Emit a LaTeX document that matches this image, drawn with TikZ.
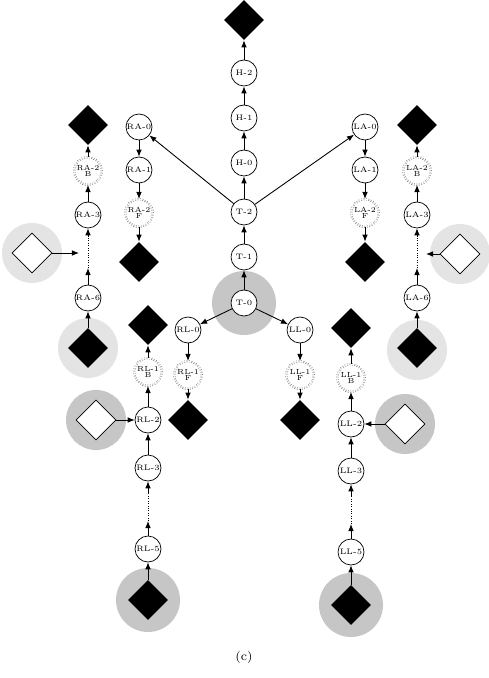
\documentclass[tikz,border=0pt]{standalone}
\usepackage{tikz}
\usetikzlibrary{arrows.meta,shapes.geometric}
\definecolor{HaloLight}{RGB}{228,228,228}
\definecolor{HaloDark}{RGB}{198,198,198}

\begin{document}
\begin{tikzpicture}[x=0.02cm,y=-0.02cm,
  joint/.style={circle,draw,line width=0.4pt,fill=white,minimum size=0.52cm,
                inner sep=0pt,font=\fontsize{4.5}{5}\selectfont},
  split/.style={joint,draw=black!65,densely dotted,double,double distance=0.6pt,
                line width=0.3pt,align=center,minimum size=0.55cm,
                font=\fontsize{4.2}{3.6}\selectfont},
  endeff/.style={diamond,fill=black,minimum size=0.8cm,inner sep=0pt},
  contact/.style={diamond,draw,line width=0.4pt,fill=white,minimum size=0.8cm,inner sep=0pt},
  link/.style={-{Latex[length=4pt,width=3.2pt]},line width=0.5pt}]
\useasboundingbox (0,0) rectangle (489,678);
% halos
\fill[HaloDark] (244,303) circle (32);
\fill[HaloLight] (88,348) circle (30);
\fill[HaloLight] (417,350) circle (30);
\fill[HaloLight] (32,253) circle (30);
\fill[HaloLight] (460,254) circle (30);
\fill[HaloDark] (96,420) circle (30);
\fill[HaloDark] (405,424) circle (30);
\fill[HaloDark] (148,600) circle (32);
\fill[HaloDark] (351,605) circle (32);
% trunk and head
\node[endeff] (head) at (244,20) {};
\node[joint] (H2) at (244,73) {H-2};
\node[joint] (H1) at (244,118) {H-1};
\node[joint] (H0) at (244,163) {H-0};
\node[joint] (T2) at (244,212) {T-2};
\node[joint] (T1) at (244,257) {T-1};
\node[joint] (T0) at (244,303) {T-0};
\draw[link] (T0) -- (T1);
\draw[link] (T1) -- (T2);
\draw[link] (T2) -- (H0);
\draw[link] (H0) -- (H1);
\draw[link] (H1) -- (H2);
\draw[link] (H2) -- (head);
% arms, forward
\node[joint] (RA0) at (139,127) {RA-0};
\node[joint] (RA1) at (139,170) {RA-1};
\node[split] (RA2f) at (139,213) {RA-2\\F};
\node[endeff] (RAf) at (139,262) {};
\node[joint] (LA0) at (365,127) {LA-0};
\node[joint] (LA1) at (365,170) {LA-1};
\node[split] (LA2f) at (365,213) {LA-2\\F};
\node[endeff] (LAf) at (365,262) {};
\draw[link] (T2) -- (RA0);
\draw[link] (T2) -- (LA0);
\draw[link] (RA0) -- (RA1);
\draw[link] (RA1) -- (RA2f);
\draw[link] (RA2f) -- (RAf);
\draw[link] (LA0) -- (LA1);
\draw[link] (LA1) -- (LA2f);
\draw[link] (LA2f) -- (LAf);
% arms, backward
\node[endeff] (RAb) at (88,125) {};
\node[split] (RA2b) at (88,171) {RA-2\\B};
\node[joint] (RA3) at (88,215) {RA-3};
\coordinate (ra-hi) at (88,236);
\coordinate (ra-lo) at (88,268);
\node[joint] (RA6) at (88,298) {RA-6};
\node[endeff] (RAroot) at (88,348) {};
\node[contact] (RAc) at (32,253) {};
\coordinate (ra-in) at (79,253);
\node[endeff] (LAb) at (417,125) {};
\node[split] (LA2b) at (417,171) {LA-2\\B};
\node[joint] (LA3) at (417,215) {LA-3};
\coordinate (la-hi) at (417,236);
\coordinate (la-lo) at (417,268);
\node[joint] (LA6) at (417,298) {LA-6};
\node[endeff] (LAroot) at (417,348) {};
\node[contact] (LAc) at (460,254) {};
\coordinate (la-in) at (426,254);
\draw[link] (RAroot) -- (RA6);
\draw[link] (RA6) -- (ra-lo);
\draw[densely dotted] (ra-lo) -- (ra-hi);
\draw[link] (ra-hi) -- (RA3);
\draw[link] (RA3) -- (RA2b);
\draw[link] (RA2b) -- (RAb);
\draw[link] (RAc) -- (ra-in);
\draw[link] (LAroot) -- (LA6);
\draw[link] (LA6) -- (la-lo);
\draw[densely dotted] (la-lo) -- (la-hi);
\draw[link] (la-hi) -- (LA3);
\draw[link] (LA3) -- (LA2b);
\draw[link] (LA2b) -- (LAb);
\draw[link] (LAc) -- (la-in);
% legs, forward
\node[joint] (RL0) at (188,330) {RL-0};
\node[split] (RL1f) at (188,375) {RL-1\\F};
\node[endeff] (RLf) at (188,420) {};
\node[joint] (LL0) at (300,330) {LL-0};
\node[split] (LL1f) at (300,375) {LL-1\\F};
\node[endeff] (LLf) at (300,420) {};
\draw[link] (T0) -- (RL0);
\draw[link] (T0) -- (LL0);
\draw[link] (RL0) -- (RL1f);
\draw[link] (RL1f) -- (RLf);
\draw[link] (LL0) -- (LL1f);
\draw[link] (LL1f) -- (LLf);
% legs, backward
\node[endeff] (RLb) at (148,325) {};
\node[split] (RL1b) at (148,372) {RL-1\\B};
\node[joint] (RL2) at (148,420) {RL-2};
\node[joint] (RL3) at (148,468) {RL-3};
\coordinate (rl-hi) at (148,493);
\coordinate (rl-lo) at (148,521);
\node[joint] (RL5) at (148,549) {RL-5};
\node[endeff] (RLroot) at (148,600) {};
\node[contact] (RLc) at (96,420) {};
\node[endeff] (LLb) at (351,328) {};
\node[split] (LL1b) at (351,378) {LL-1\\B};
\node[joint] (LL2) at (351,424) {LL-2};
\node[joint] (LL3) at (351,471) {LL-3};
\coordinate (ll-hi) at (351,496);
\coordinate (ll-lo) at (351,524);
\node[joint] (LL5) at (351,552) {LL-5};
\node[endeff] (LLroot) at (351,605) {};
\node[contact] (LLc) at (405,424) {};
\draw[link] (RLroot) -- (RL5);
\draw[link] (RL5) -- (rl-lo);
\draw[densely dotted] (rl-lo) -- (rl-hi);
\draw[link] (rl-hi) -- (RL3);
\draw[link] (RL3) -- (RL2);
\draw[link] (RL2) -- (RL1b);
\draw[link] (RL1b) -- (RLb);
\draw[link] (RLc) -- (RL2);
\draw[link] (LLroot) -- (LL5);
\draw[link] (LL5) -- (ll-lo);
\draw[densely dotted] (ll-lo) -- (ll-hi);
\draw[link] (ll-hi) -- (LL3);
\draw[link] (LL3) -- (LL2);
\draw[link] (LL2) -- (LL1b);
\draw[link] (LL1b) -- (LLb);
\draw[link] (LLc) -- (LL2);
\node[font=\fontsize{7}{8}\selectfont] (caption) at (244,657) {(c)};
\end{tikzpicture}
\end{document}
